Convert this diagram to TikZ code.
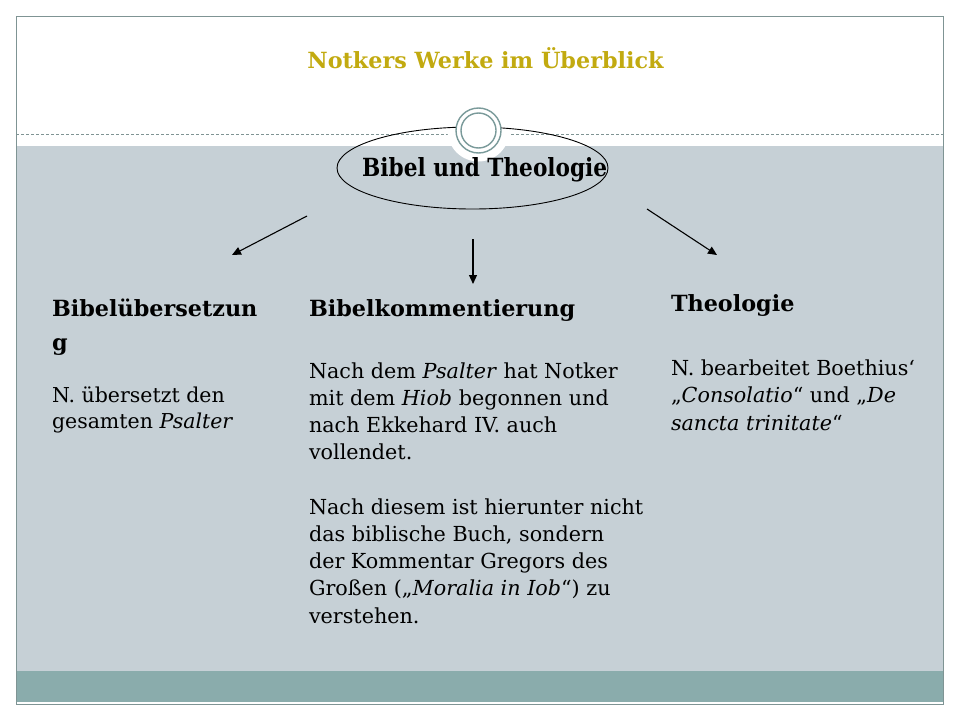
\documentclass[tikz,border=0pt]{standalone}
\usepackage{fontspec}
\usepackage{graphicx}
\setmainfont{DejaVu Serif}
\usetikzlibrary{arrows.meta,shapes.geometric}
\definecolor{bggray}{HTML}{C6D0D6}
\definecolor{band}{HTML}{8AACAC}
\definecolor{frame}{HTML}{7F9494}
\definecolor{ring}{HTML}{7A9A9A}
\definecolor{gold}{HTML}{C2AA10}
\tikzset{
  txt/.style={inner sep=0pt, outer sep=0pt, align=left, anchor=base west},
  arr/.style={line width=1.1pt, -{Triangle[length=9pt,width=8pt]}},
  headfont/.style={font=\fontsize{22.3}{34}\selectfont\bfseries},
  bodyL/.style={font=\fontsize{20.5}{25.5}\selectfont},
  bodyM/.style={font=\fontsize{20.7}{27.2}\selectfont},
}
\begin{document}
\begin{tikzpicture}[x=1pt,y=-1pt]
\useasboundingbox (0,0) rectangle (960,720);
% backgrounds
\fill[white] (0,0) rectangle (960,720);
\fill[bggray] (16,146) rectangle (943,671);
\fill[band] (16,671) rectangle (943,702);
\draw[frame, line width=1pt] (16,16) rectangle (943,704);
\draw[frame, line width=0.8pt, dash pattern=on 3pt off 2pt] (16,134) -- (943,134);
% white disk behind ornament
\fill[white] (478.5,130.5) circle (31);
% ellipse
\node[draw=black, line width=0.9pt, ellipse, inner sep=0pt, minimum width=271pt, minimum height=82pt] (ell) at (472.5,168) {};
% ornament rings
\fill[white] (478.5,130.5) circle (22.5);
\draw[ring, line width=1.4pt] (478.5,130.5) circle (22.5);
\draw[ring, line width=1.4pt] (478.5,130.5) circle (17.5);
% title
\node[inner sep=0pt, anchor=base, text=gold, font=\fontsize{22.3}{26}\selectfont\bfseries] (title) at (485.5,68.3) {Notkers Werke im Überblick};
\node[inner sep=0pt, anchor=base west, font=\fontsize{25}{30}\selectfont\bfseries] (bt) at (362,176) {\resizebox{245pt}{19pt}{Bibel und Theologie}};
% arrows
\coordinate (a1s) at (307,216); \coordinate (a1e) at (232,255);
\coordinate (a2s) at (473,239); \coordinate (a2e) at (473,284);
\coordinate (a3s) at (647,209); \coordinate (a3e) at (717,255);
\draw[arr] (a1s) -- (a1e);
\draw[arr] (a2s) -- (a2e);
\draw[arr] (a3s) -- (a3e);
% left column (anchor = baseline of last line)
\node[txt, headfont] (lh) at (52,350) {Bibelübersetzun\\g};
\node[txt, bodyL] (lb) at (52,428) {N. übersetzt den\\gesamten \textit{Psalter}};
% middle column
\node[txt, headfont] (mh) at (309,316.7) {Bibelkommentierung};
\node[txt, bodyM] (mb) at (309,623) {Nach dem \textit{Psalter} hat Notker\\mit dem \textit{Hiob} begonnen und\\nach Ekkehard IV. auch\\vollendet.\\[27.2pt]Nach diesem ist hierunter nicht\\das biblische Buch, sondern\\der Kommentar Gregors des\\Großen („\textit{Moralia in Iob}“) zu\\verstehen.};
% right column
\node[txt, headfont] (rh) at (671,311.7) {Theologie};
\node[txt, bodyM] (rb) at (671,430) {N. bearbeitet Boethius‘\\„\textit{Consolatio}“ und „\textit{De}\\\textit{sancta trinitate}“};
\end{tikzpicture}
\end{document}
